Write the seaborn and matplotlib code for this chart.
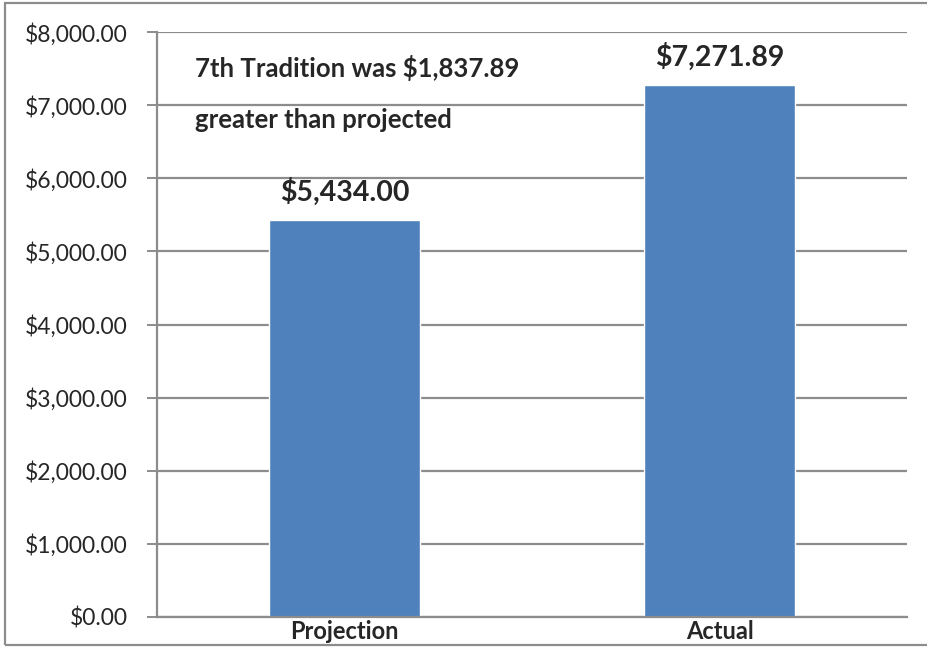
import pandas as pd
import seaborn as sns
import matplotlib.pyplot as plt
from matplotlib.patches import Rectangle
from matplotlib.ticker import FuncFormatter

# Chart data
categories = ['Projection', 'Actual']
amounts = [5434.00, 7271.89]
note_lines = ['7th Tradition was $1,837.89', 'greater than projected']

df = pd.DataFrame({'category': categories, 'amount': amounts})

sns.set_style('white')
plt.rcParams['font.family'] = ['Lato', 'DejaVu Sans']

fig = plt.figure(figsize=(9.28, 6.47), dpi=100)
ax = fig.add_axes([0.1692, 0.0464, 0.8082, 0.9041])

sns.barplot(data=df, x='category', y='amount', color='#4F81BD', saturation=1,
            width=0.405, ax=ax)

ax.set_ylim(0, 8000)
ax.set_xlim(-0.5, 1.5)
ax.set_yticks(range(0, 8001, 1000))
ax.yaxis.set_major_formatter(FuncFormatter(lambda v, p: f'${v:,.2f}'))
ax.yaxis.grid(True, color='#8c8c8c', linewidth=1.6)
ax.set_axisbelow(True)
ax.set_xlabel('')
ax.set_ylabel('')

for s in ['top', 'right']:
    ax.spines[s].set_visible(False)
ax.spines['left'].set_color('#8c8c8c')
ax.spines['left'].set_linewidth(1.6)
ax.spines['bottom'].set_color('#8c8c8c')
ax.spines['bottom'].set_linewidth(1.6)

ax.tick_params(axis='y', length=7, width=1.4, color='#8c8c8c', labelsize=16.5,
               pad=14, left=True)
ax.tick_params(axis='x', length=0, labelsize=17, pad=2)
for lbl in ax.get_xticklabels():
    lbl.set_fontweight('bold')

# value labels above bars
for i, v in enumerate(amounts):
    ax.text(i, v + 260, f'${v:,.2f}', ha='center', va='baseline',
            fontsize=20.5, fontweight='bold')

# note text
ax.text(0.051, 0.923, note_lines[0], transform=ax.transAxes, ha='left',
        va='baseline', fontsize=18.5, fontweight='bold')
ax.text(0.051, 0.836, note_lines[1], transform=ax.transAxes, ha='left',
        va='baseline', fontsize=18.5, fontweight='bold')

# outer chart border
fig.patches.append(Rectangle((5 / 928, 2 / 647), 930 / 928, 642 / 647,
                             transform=fig.transFigure, fill=False,
                             edgecolor='#8c8c8c', linewidth=1.6))

fig.savefig('out.png', dpi=100)
